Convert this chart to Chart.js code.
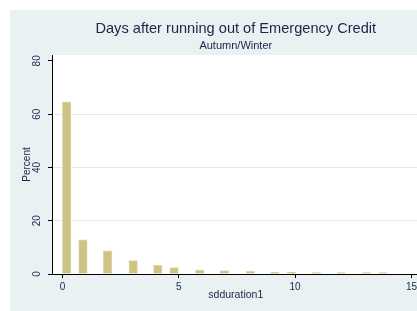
<!DOCTYPE html>
<html>
<head>
<meta charset="utf-8">
<script src="https://cdn.jsdelivr.net/npm/chart.js@4/dist/chart.umd.min.js"></script>
<style>
html,body{margin:0;padding:0;overflow:hidden;background:#fff;width:417px;height:311px;}
canvas{display:block;}
</style>
</head>
<body>
<canvas id="c" width="420" height="311"></canvas>
<script>
// Data
const binCenters = [0.18, 0.88, 1.94, 3.04, 4.1, 4.8, 5.9, 6.96, 8.08, 9.13, 9.84, 10.92, 11.98, 13.07, 13.78];
const percents   = [64.6, 12.8, 8.7, 5.0, 3.3, 2.4, 1.5, 1.3, 1.0, 0.6, 0.6, 0.5, 0.5, 0.5, 0.5];
const xTicks = [0, 5, 10, 15];
const yTicks = [0, 20, 40, 60, 80];
const yGridLines = [20, 40, 60];
const titleText = "Days after running out of Emergency Credit";
const subtitleText = "Autumn/Winter";
const xTitle = "sdduration1";
const yTitle = "Percent";

const FONT = "'Liberation Sans', Arial, sans-serif";
const TXT = '#1c2448';

const bgPlugin = {
  id: 'bg',
  beforeDraw(chart) {
    const {ctx, width, height, chartArea: a} = chart;
    ctx.save();
    ctx.fillStyle = '#ffffff';
    ctx.fillRect(0, 0, width, height);
    ctx.fillStyle = '#e9f1f3';
    ctx.fillRect(10, 10, width - 10, height - 10);
    ctx.fillStyle = '#ffffff';
    ctx.fillRect(a.left, a.top, a.right - a.left, a.bottom - a.top);
    ctx.restore();
  },
  afterDraw(chart) {
    const {ctx, chartArea: a} = chart;
    const cx = (a.left + a.right) / 2;
    ctx.save();
    ctx.fillStyle = TXT;
    ctx.textAlign = 'center';
    ctx.textBaseline = 'middle';
    ctx.font = '14.6px ' + FONT;
    ctx.fillText(titleText, cx, 29);
    ctx.font = '11px ' + FONT;
    ctx.fillText(subtitleText, cx, 46);
    ctx.restore();
  }
};

new Chart(document.getElementById('c'), {
  type: 'bar',
  data: {
    datasets: [{
      data: binCenters.map((x, i) => ({x: x, y: percents[i]})),
      backgroundColor: '#ccc384',
      borderColor: '#ddd6a8',
      borderWidth: 1,
      barThickness: 8.5
    }]
  },
  options: {
    responsive: false,
    animation: false,
    devicePixelRatio: 1,
    layout: {padding: {top: 55, left: 0, right: 0, bottom: 0}},
    plugins: {legend: {display: false}, tooltip: {enabled: false}, title: {display: false}},
    scales: {
      x: {
        type: 'linear',
        offset: false,
        min: -0.45,
        max: 15.35,
        afterBuildTicks(s) { s.ticks = xTicks.map(v => ({value: v})); },
        afterFit(s) { s.height = 37; },
        grid: {offset: false, drawOnChartArea: false, tickLength: 4, tickColor: '#000', color: '#000'},
        border: {color: '#000', width: 1},
        ticks: {color: TXT, font: {family: FONT, size: 10}, padding: 3, maxRotation: 0, autoSkip: false},
        title: {display: true, text: xTitle, color: TXT, font: {family: FONT, size: 10.5}, padding: {top: 0, bottom: 10}}
      },
      y: {
        min: 0,
        max: 82.2,
        afterBuildTicks(s) { s.ticks = yTicks.map(v => ({value: v})); },
        afterFit(s) { s.width = 52; },
        grid: {
          color: ctx => (ctx.tick && yGridLines.includes(ctx.tick.value)) ? '#e1ebee' : 'rgba(0,0,0,0)',
          tickColor: '#000',
          tickLength: 4
        },
        border: {color: '#000', width: 1},
        ticks: {color: TXT, font: {family: FONT, size: 10}, padding: 5, minRotation: 90, maxRotation: 90, crossAlign: 'center', autoSkip: false},
        title: {display: true, text: yTitle, color: TXT, font: {family: FONT, size: 10}, padding: {top: 21, bottom: 0}}
      }
    }
  },
  plugins: [bgPlugin]
});
</script>
</body>
</html>
